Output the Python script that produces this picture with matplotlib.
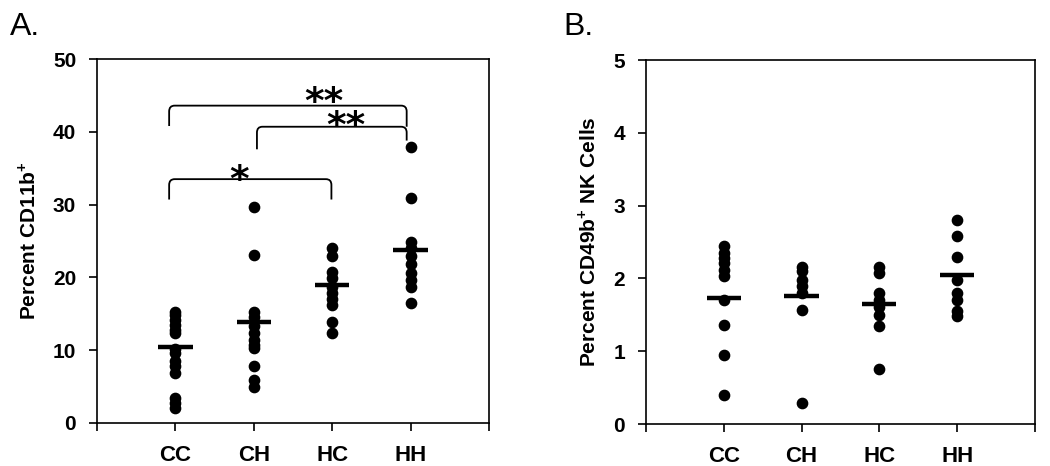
import matplotlib
matplotlib.use("Agg")
import matplotlib.pyplot as plt
from matplotlib.path import Path
from matplotlib.patches import PathPatch

plt.rcParams["font.family"] = ["Liberation Sans", "DejaVu Sans"]
plt.rcParams["mathtext.fontset"] = "custom"
plt.rcParams["mathtext.rm"] = "Liberation Sans:bold"
plt.rcParams["mathtext.bf"] = "Liberation Sans:bold"

groups = ["CC", "CH", "HC", "HH"]

# panel A: percent CD11b+
cd11b_cc = [15.3, 14.8, 14.2, 13.5, 12.8, 12.3, 10.2, 9.6, 8.5, 7.8, 6.9, 3.4, 2.7, 2.1]
cd11b_ch = [29.7, 23.1, 15.3, 14.6, 13.3, 12.3, 11.4, 10.7, 10.3, 7.8, 5.9, 5.0]
cd11b_hc = [24.0, 22.9, 20.8, 19.9, 18.7, 17.8, 17.1, 16.2, 13.9, 12.3]
cd11b_hh = [37.9, 30.9, 24.9, 24.0, 22.9, 21.9, 20.6, 19.7, 18.7, 16.5]
cd11b_means = [10.4, 13.9, 19.0, 23.8]

# panel B: percent CD49b+ NK cells
nk_cc = [2.44, 2.35, 2.28, 2.21, 2.12, 2.03, 1.71, 1.36, 0.95, 0.40]
nk_ch = [2.16, 2.10, 1.98, 1.89, 1.80, 1.57, 0.29]
nk_hc = [2.16, 2.07, 1.80, 1.71, 1.61, 1.50, 1.34, 0.75]
nk_hh = [2.80, 2.58, 2.30, 1.98, 1.80, 1.71, 1.55, 1.48]
nk_means = [1.73, 1.76, 1.65, 2.05]

# significance brackets: (x_left, x_right, y_bar, y_left_end, y_right_end, stars, star_x, star_y)
brackets = [
    (0.92, 3.95, 43.6, 40.8, 40.7, "**", 2.90, 43.9),
    (2.04, 3.95, 40.7, 37.6, 38.8, "**", 3.18, 40.6),
    (0.92, 2.99, 33.5, 30.7, 30.7, "*", 1.81, 33.3),
]


def draw_strip(ax, series, means):
    for i, vals in enumerate(series, start=1):
        ax.plot([i] * len(vals), vals, "o", color="black", ms=7.4, mec="black")
        ax.plot([i - 0.22, i + 0.22], [means[i - 1]] * 2, color="black", lw=3.2,
                solid_capstyle="butt")


def style_axes(ax, ymax, ylabel):
    ax.set_xlim(0, 5)
    ax.set_ylim(0, ymax)
    ax.set_xticks(range(6))
    ax.set_xticklabels([""] + groups + [""], fontsize=16, fontweight="bold")
    ax.set_yticks(range(0, ymax + 1, ymax // 5))
    for lab in ax.get_yticklabels():
        lab.set_fontsize(15)
        lab.set_fontweight("bold")
    ax.tick_params(direction="out", length=6, width=1.2)
    ax.tick_params(axis="y", pad=9)
    ax.tick_params(axis="x", pad=10)
    for s in ax.spines.values():
        s.set_linewidth(1.2)
    ax.set_ylabel(ylabel, fontsize=15, fontweight="bold", labelpad=10)


def bracket(ax, x0, x1, y, yl, yr, r=0.07, ry=0.8):
    verts = [(x0, yl), (x0, y - ry), (x0, y), (x0 + r, y),
             (x1 - r, y), (x1, y), (x1, y - ry), (x1, yr)]
    codes = [Path.MOVETO, Path.LINETO, Path.CURVE3, Path.CURVE3,
             Path.LINETO, Path.CURVE3, Path.CURVE3, Path.LINETO]
    ax.add_patch(PathPatch(Path(verts, codes), fill=False, lw=1.3, color="black"))


fig = plt.figure(figsize=(10.5, 4.66), dpi=100)
ax_a = fig.add_axes([0.0924, 0.0923, 0.3733, 0.781])
ax_b = fig.add_axes([0.6152, 0.0901, 0.3705, 0.781])

draw_strip(ax_a, [cd11b_cc, cd11b_ch, cd11b_hc, cd11b_hh], cd11b_means)
style_axes(ax_a, 50, r"Percent CD11b$^{+}$")
for x0, x1, y, yl, yr, stars, sx, sy in brackets:
    bracket(ax_a, x0, x1, y, yl, yr)
    ax_a.text(sx, sy, stars, ha="center", va="center", fontsize=27,
              fontweight="bold", family="DejaVu Sans")

draw_strip(ax_b, [nk_cc, nk_ch, nk_hc, nk_hh], nk_means)
style_axes(ax_b, 5, r"Percent CD49b$^{+}$ NK Cells")

fig.text(0.009, 0.975, "A.", fontsize=23, va="top", ha="left")
fig.text(0.537, 0.975, "B.", fontsize=23, va="top", ha="left")

fig.savefig("out.png", dpi=100)
